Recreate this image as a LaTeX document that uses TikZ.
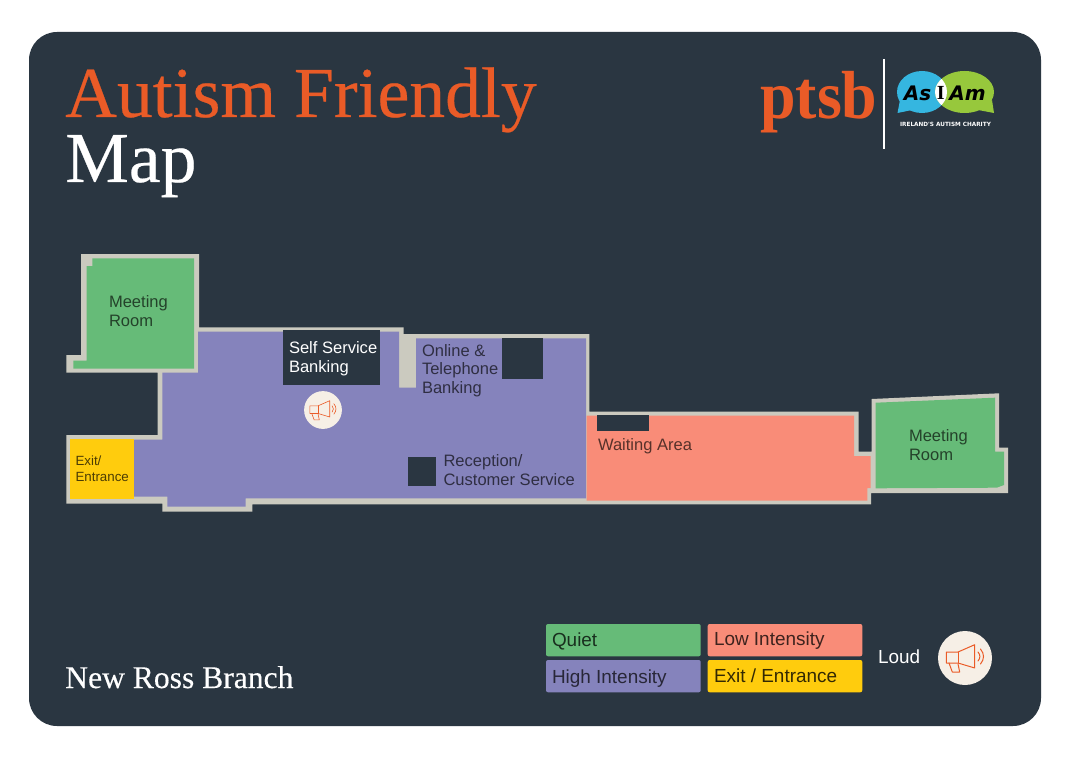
\documentclass[tikz,border=0pt]{standalone}
\usepackage{fontspec}
\setmainfont{Liberation Sans}
\newfontfamily\titlefont[FakeBold=0.35]{Liberation Serif}
\newfontfamily\plainserif{Liberation Serif}
\newfontfamily\logofont{DejaVu Sans}
\definecolor{panel}{HTML}{2A3641}
\definecolor{wall}{HTML}{CBCABF}
\definecolor{quiet}{HTML}{66BB78}
\definecolor{high}{HTML}{8583BC}
\definecolor{low}{HTML}{F98C78}
\definecolor{exitc}{HTML}{FFCC0D}
\definecolor{brand}{HTML}{EA5B27}
\definecolor{cream}{HTML}{F6EFE6}
\definecolor{skyb}{HTML}{35B6E0}
\definecolor{limeg}{HTML}{97C83C}
\tikzset{
  x=0.75pt,y=-0.75pt,
  lab/.style={anchor=base west,inner sep=0pt,outer sep=0pt,font=\fontsize{12.4pt}{14pt}\selectfont},
  leglab/.style={lab,font=\fontsize{14.2pt}{15pt}\selectfont},
  greenlab/.style={lab,text=quiet!35!black},
  purplab/.style={lab,text=high!35!black},
  redlab/.style={lab,text=low!35!black},
  whitelab/.style={lab,text=white},
  legbox/.style={rounded corners=1.5pt,line width=0pt},
  megaphone/.pic={
    \fill[cream] (0,0) circle (27);
    \begin{scope}[draw=brand,line width=#1,line join=round,line cap=round]
      \draw (-18.7,-6) -- (-7,-6) -- (9.7,-13.3) -- (9.7,10) -- (-7,5) -- (-18.7,5) -- cycle;
      \draw (-7,-6) -- (-7,5);
      \draw (-16,5) -- (-12.7,14) -- (-5.3,14) -- (-7,6);
      \draw (13,-6) .. controls (15.5,-3) and (15.5,0) .. (13,3);
      \draw (15.5,-9) .. controls (19.5,-4) and (19.5,1) .. (15.5,6);
    \end{scope}
  }
}
\begin{document}
\begin{tikzpicture}
\useasboundingbox (0,0) rectangle (1069,759);
\fill[white] (0,0) rectangle (1069,759);
\fill[panel,rounded corners=21pt] (29,32) rectangle (1041,726);

% titles
\node[anchor=base west,inner sep=0pt,text=brand,font=\titlefont\fontsize{53.7pt}{54pt}\selectfont] (title1) at (65,117) {Autism Friendly};
\node[anchor=base west,inner sep=0pt,text=white,font=\titlefont\fontsize{53.7pt}{54pt}\selectfont] (title2) at (65,182) {Map};
\node[anchor=base west,inner sep=0pt,text=white,font=\titlefont\fontsize{23.7pt}{24pt}\selectfont] (branch) at (65,688) {New Ross Branch};

% logos
\node[anchor=base west,inner sep=0pt,text=brand,xscale=.94,font=\plainserif\bfseries\fontsize{51pt}{51pt}\selectfont] (ptsb) at (760,119) {ptsb};
\draw[white,line width=1.1pt] (884,59) -- (884,149);
\fill[skyb] (922,92) ellipse (25 and 21);
\fill[skyb] (897.5,113) -- (900,100) -- (912,110) -- cycle;
\fill[limeg] (964.5,92) ellipse (29.5 and 21);
\fill[limeg] (994,113) -- (992,100) -- (978,110) -- cycle;
\begin{scope}
  \clip (922,92) ellipse (25 and 21);
  \fill[white] (964.5,92) ellipse (29.5 and 21);
\end{scope}
\node[inner sep=0pt,text=black,font=\logofont\bfseries\itshape\fontsize{15pt}{15pt}\selectfont] (as) at (917.5,93) {As};
\node[inner sep=0pt,text=black,font=\plainserif\bfseries\fontsize{15pt}{15pt}\selectfont] (i) at (940.7,93) {I};
\node[inner sep=0pt,text=black,font=\logofont\bfseries\itshape\fontsize{15pt}{15pt}\selectfont] (am) at (967.5,93) {Am};
\node[inner sep=0pt,text=white,font=\logofont\bfseries\fontsize{4.3pt}{4.3pt}\selectfont] (charity) at (945.5,124.5) {IRELAND'S AUTISM CHARITY};

% walls
\fill[wall] (81,254) -- (199,254) -- (199,327.3) -- (403.5,327.3) -- (403.5,334) -- (589.3,334) -- (589.3,411.7) -- (858.7,411.7) -- (858.7,451.7) -- (871.7,451.7) -- (871.7,399) -- (999,393.3) -- (999,447.7) -- (1008,447.7) -- (1008,493) -- (871,493) -- (871,504.3) -- (252.3,504.3) -- (252.3,511.7) -- (162.3,511.7) -- (162.3,503.5) -- (66.3,503.5) -- (66.3,435) -- (157.7,435) -- (157.7,372.7) -- (66.3,372.7) -- (66.3,355) -- (81,355) -- cycle;
% high intensity
\fill[high] (198,331.7) -- (399,331.7) -- (399,387.5) -- (416,387.5) -- (416,338.3) -- (586,338.3) -- (586,498.3) -- (245.7,498.3) -- (245.7,506.7) -- (167.3,506.7) -- (167.3,496.7) -- (134,496.7) -- (134,439.5) -- (162.3,439.5) -- (162.3,372.7) -- (198,372.7) -- cycle;
% quiet
\fill[quiet] (92.3,258.3) -- (194,258.3) -- (194,368.7) -- (73.3,368.7) -- (73.3,360.7) -- (86.7,360.7) -- (86.7,266) -- (92.3,266) -- cycle;
\fill[quiet] (875.7,402.7) -- (995,397.7) -- (995,451.7) -- (1004,451.7) -- (1004,485) -- (996.7,487.7) -- (875.7,488.3) -- cycle;
% low intensity
\fill[low] (586.7,415.7) -- (854,415.7) -- (854,456) -- (870.7,456) -- (870.7,488) -- (867.3,488) -- (867.3,500.7) -- (586.7,500.7) -- cycle;
% exit
\fill[exitc] (70,439.3) rectangle (134,499);
% dark boxes
\fill[panel] (283,330) rectangle (380,385);
\fill[panel] (502,338.3) rectangle (543,379);
\fill[panel] (408,457) rectangle (436,485.7);
\fill[panel] (597,415) rectangle (649,430.7);

% room labels
\node[greenlab] (m1a) at (109,307) {Meeting};
\node[greenlab] (m1b) at (109,326) {Room};
\node[greenlab] (m2a) at (909,441) {Meeting};
\node[greenlab] (m2b) at (909,460) {Room};
\node[whitelab] (ss1) at (289,353) {Self Service};
\node[whitelab] (ss2) at (289,372) {Banking};
\node[purplab] (on1) at (422,356) {Online \&};
\node[purplab] (on2) at (422,374) {Telephone};
\node[purplab] (on3) at (422,393) {Banking};
\node[purplab] (re1) at (443.5,466) {Reception/};
\node[purplab] (re2) at (443.5,485) {Customer Service};
\node[redlab] (wa) at (598,450) {Waiting Area};
\node[lab,text=exitc!30!black,font=\fontsize{10pt}{11pt}\selectfont] (ex1) at (75.5,465.5) {Exit/};
\node[lab,text=exitc!30!black,font=\fontsize{10pt}{11pt}\selectfont] (ex2) at (75.5,481.5) {Entrance};

\pic[scale=.7] at (323,410) {megaphone={0.45pt}};

% legend
\fill[quiet,legbox] (546,624) rectangle (700.7,656.3);
\fill[high,legbox] (546,660) rectangle (700.7,692.3);
\fill[low,legbox] (707.7,624) rectangle (862.3,656.3);
\fill[exitc,legbox] (707.7,660) rectangle (862.3,692.3);
\node[leglab,text=quiet!25!black] (lq) at (552,646) {Quiet};
\node[leglab,text=high!30!black] (lh) at (552,683.5) {High Intensity};
\node[leglab,text=low!25!black] (ll) at (714,645) {Low Intensity};
\node[leglab,text=exitc!20!black] (le) at (714,682.5) {Exit / Entrance};
\node[leglab,text=white] (loud) at (878,663) {Loud};
\pic at (965,658) {megaphone={0.75pt}};
\end{tikzpicture}
\end{document}
